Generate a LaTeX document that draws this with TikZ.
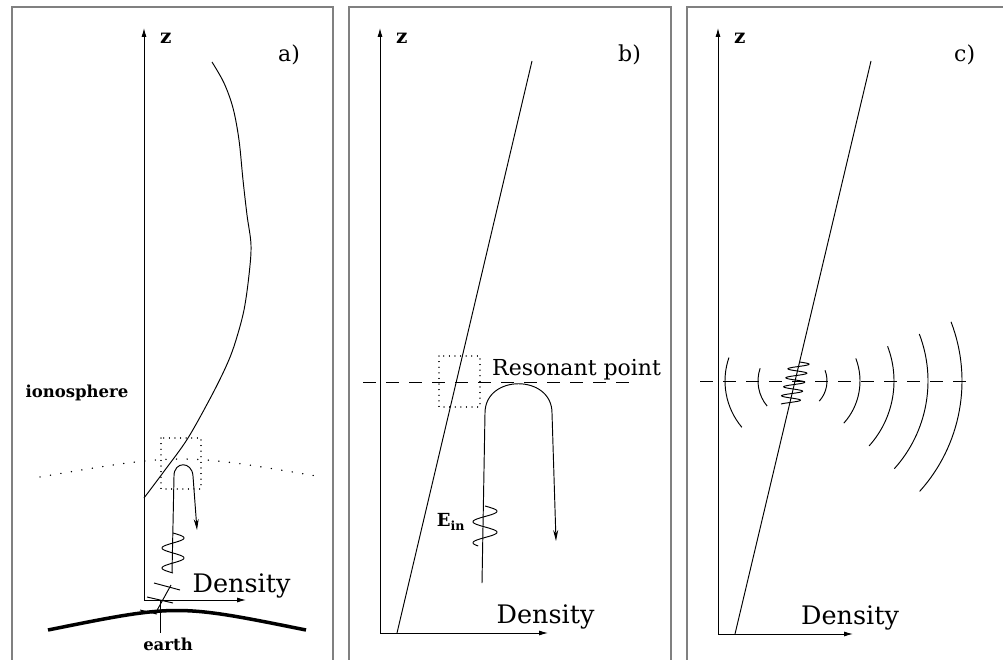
\documentclass[tikz,border=0pt]{standalone}
\usepackage{fontspec}
\newfontfamily\dvs{DejaVu Serif}
\usetikzlibrary{arrows.meta}
\begin{document}
\begin{tikzpicture}[x=1pt,y=-1pt,
  frame/.style={draw=black!50, line width=1.6},
  thinline/.style={line width=0.95},
  axis/.style={line width=0.95, -{Latex[length=9pt,width=5pt]}},
  ray/.style={line width=0.95, -{Stealth[length=11pt,width=5pt]}},
  boxdot/.style={line width=1.1, line cap=round, dash pattern=on 0.1pt off 5.5pt},
  iono/.style={line width=1.5, line cap=round, dash pattern=on 0.1pt off 10.5pt},
  resline/.style={line width=0.95, dash pattern=on 13pt off 10pt},
  zlab/.style={inner sep=0, anchor=base west, font=\dvs\fontsize{20}{22}\selectfont\bfseries},
  plab/.style={inner sep=0, anchor=base west, font=\dvs\fontsize{22}{24}\selectfont},
  dens/.style={inner sep=0, anchor=base, font=\dvs\fontsize{25.5}{28}\selectfont},
  reslab/.style={inner sep=0, anchor=base west, font=\dvs\fontsize{22}{24}\selectfont},
  blab/.style={inner sep=0, font=\dvs\fontsize{16.5}{18}\selectfont\bfseries}]
\useasboundingbox (0,0) rectangle (1003,660);
% frames
\draw[frame] (12,662) -- (12,7) -- (333,7) -- (333,662);
\draw[frame] (349,662) -- (349,7) -- (671,7) -- (671,662);
\draw[frame] (687,662) -- (687,7) -- (1003,7);
% ---------------- panel a
\coordinate (aO) at (144,600);
\coordinate (aZ) at (144,28);
\coordinate (aX) at (246,600);
\draw[axis] (aO) -- (aZ);
\draw[axis] (aO) -- (aX);
\node[zlab] (az) at (160,44) {z};
\node[plab] (atag) at (278,62) {a)};
\node[dens] (adens) at (241.5,592) {Density};
\draw[thinline] plot[smooth, tension=0.55] coordinates {(212,62) (224,83) (233,108) (239,140) (243,180) (247,215) (251,245) (249,275) (244,310) (236,340) (228,362) (213,393) (188,438) (165,470) (144,498)};
\draw[boxdot] (161,438) rectangle (201,489);
\draw[iono] (40,477) .. controls (181,453) .. (322,477);
\node[blab] (iono) at (77,393) {ionosphere};
\draw[ray] (172,573) -- (174,476) .. controls (174,461) and (192,461) .. (193,476) -- (197,530);
\draw[thinline] plot[domain=533:573, samples=80, smooth] ({173+11*sin(18*(\x-533))},\x);
\draw[thinline] (155,614) -- (171,585);
\draw[thinline] (154,583) -- (180,590);
\draw[thinline] (147,597) -- (173,603);
\draw[thinline] (140,610) -- (157,614);
\draw[thinline] (160,600) -- (160,633);
\draw[line width=3.5] (48,630) .. controls (177,604) .. (306,630);
\node[blab] (earth) at (168,644) {earth};
% ---------------- panel b
\coordinate (bO) at (380,633);
\coordinate (bZ) at (380,28);
\coordinate (bX) at (548,633);
\draw[axis] (bO) -- (bZ);
\draw[axis] (bO) -- (bX);
\node[zlab] (bz) at (396,44) {z};
\node[plab] (btag) at (618,62) {b)};
\node[dens] (bdens) at (545.5,623) {Density};
\coordinate (bL1) at (397,633);
\coordinate (bL2) at (532,61);
\draw[thinline] (bL1) -- (bL2);
\coordinate (bD1) at (363,382);
\coordinate (bD2) at (635,382);
\draw[resline] (bD1) -- (bD2);
\draw[boxdot] (439,356) rectangle (480,407);
\node[reslab] (res) at (492,375) {Resonant point};
\draw[ray] (482,583) -- (485,413) .. controls (485,374) and (552,374) .. (552,413) -- (556,541);
\draw[thinline] plot[domain=506:546, samples=80, smooth] ({485+12*sin(360/21*(\x-506))},\x);
\node[blab, font=\dvs\fontsize{18}{20}\selectfont\bfseries] (ein) at (451,522) {E\textsubscript{in}};
% ---------------- panel c
\coordinate (cO) at (718,634);
\coordinate (cZ) at (718,28);
\coordinate (cX) at (853,634);
\draw[axis] (cO) -- (cZ);
\draw[axis] (cO) -- (cX);
\node[zlab] (cz) at (734,44) {z};
\node[plab] (ctag) at (954,62) {c)};
\node[dens] (cdens) at (850,624) {Density};
\coordinate (cL1) at (735,634);
\coordinate (cL2) at (871,61);
\draw[thinline] (cL1) -- (cL2);
\coordinate (cD1) at (700,381);
\coordinate (cD2) at (972,381);
\draw[resline] (cD1) -- (cD2);
\coordinate (src) at (797,381);
\foreach \r in {30,63,97,131,165}
  \draw[thinline] ([shift={(-21:\r)}]src) arc[start angle=-21, end angle=42, radius=\r];
\foreach \r in {39,72}
  \draw[thinline] ([shift={(140:\r)}]src) arc[start angle=140, end angle=199, radius=\r];
\draw[thinline] plot[domain=362:404, samples=120] ({735+0.23735*(634-\x)+10*sin(40*(\x-362))},\x);
\end{tikzpicture}
\end{document}
